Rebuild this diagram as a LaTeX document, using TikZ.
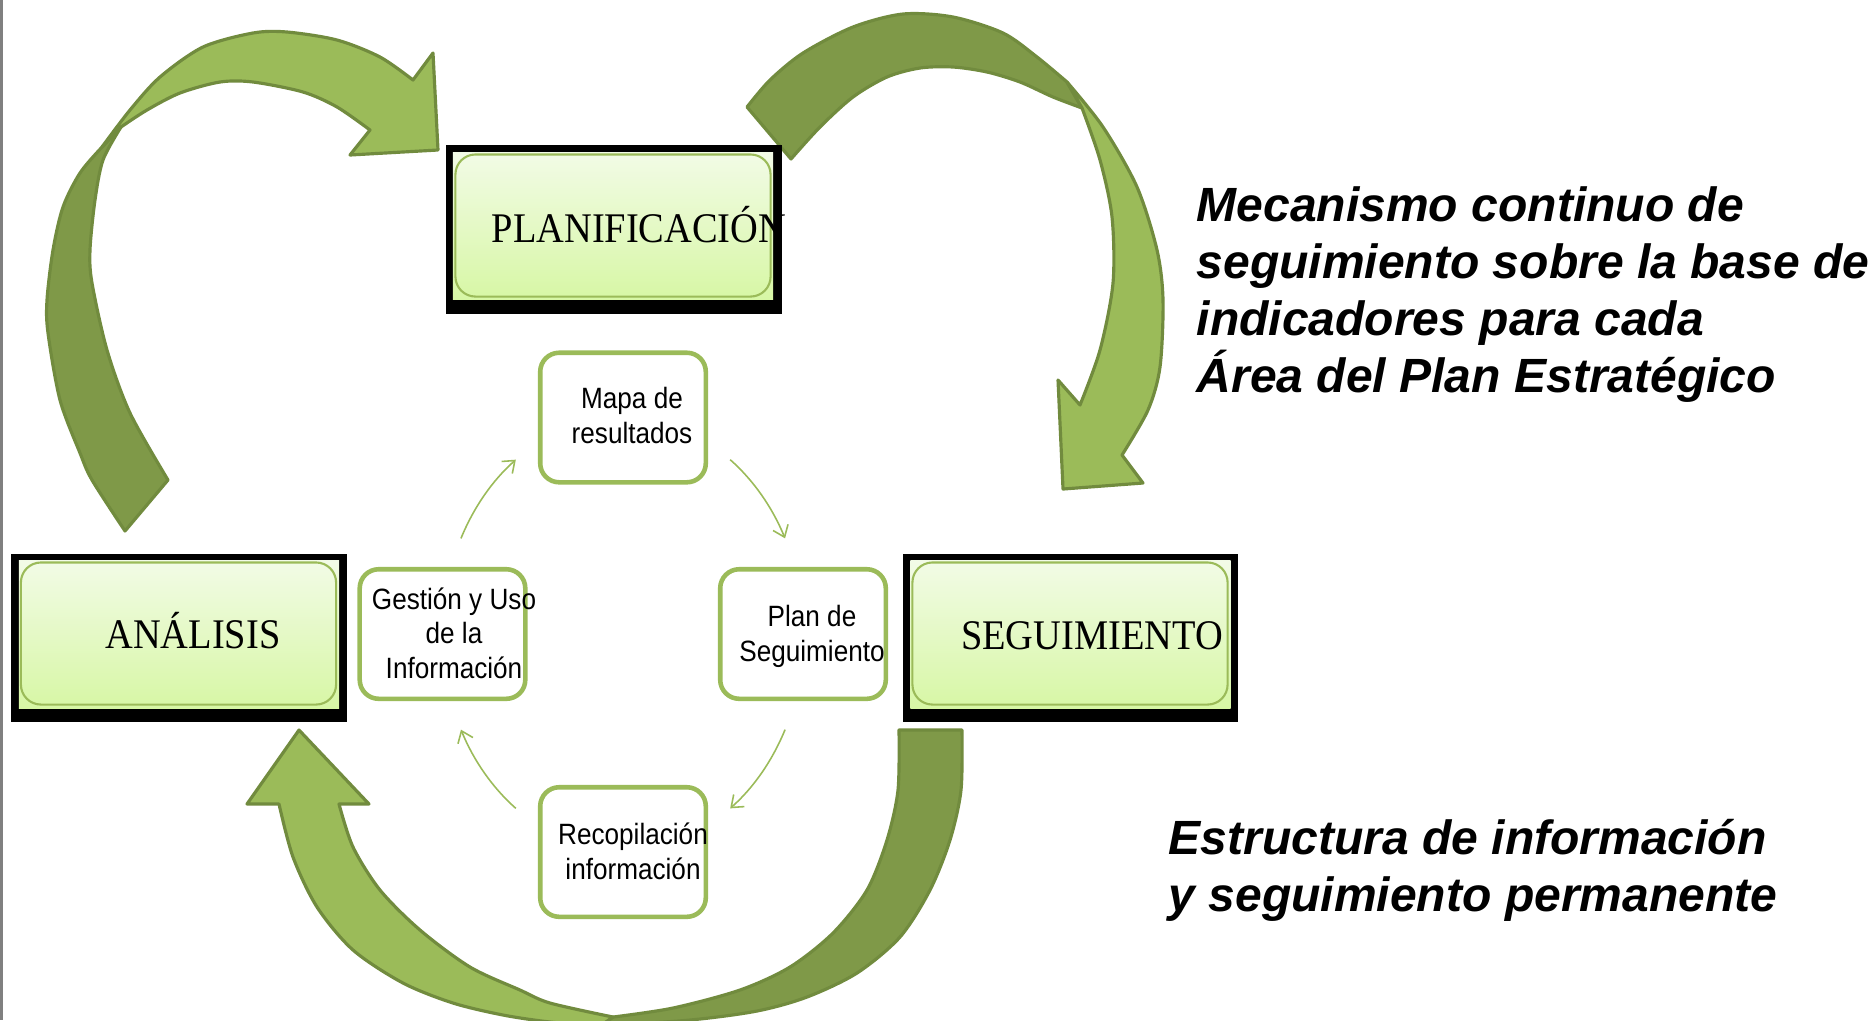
\documentclass[tikz,border=0pt]{standalone}
\usepackage{fontspec}
\newfontfamily\stagefont[FakeStretch=0.91]{Liberation Serif}
\newfontfamily\stepfont[FakeStretch=0.89]{Liberation Sans}
\newfontfamily\notefont{Liberation Sans}
\usetikzlibrary{arrows.meta,positioning}

\definecolor{leafgreen}{HTML}{9BBB59}
\definecolor{mossgreen}{HTML}{7F9948}
\definecolor{rimgreen}{HTML}{718B3E}
\definecolor{paneltop}{RGB}{242,251,230}
\definecolor{panelbot}{RGB}{215,247,165}

\begin{document}
\begin{tikzpicture}[x=0.01cm, y=-0.01cm,
    frame/.style={fill=black, minimum width=3.35cm, minimum height=1.68cm, inner sep=0},
    panel/.style={top color=paneltop, bottom color=panelbot, minimum width=3.2cm, minimum height=1.47cm, inner sep=0},
    rim/.style={draw=leafgreen, line width=0.6pt, rounded corners=0.2cm, minimum width=3.15cm, minimum height=1.42cm, inner sep=0},
    stagetext/.style={font=\stagefont\fontsize{12}{14}\selectfont, inner sep=0, anchor=base},
    stepbox/.style={draw=leafgreen, line width=1.3pt, fill=white, rounded corners=0.19cm, minimum width=1.655cm, minimum height=1.295cm, inner sep=0},
    steptext/.style={font=\stepfont\fontsize{8.35}{9.8}\selectfont, align=center, inner sep=0, anchor=base},
    flow/.style={draw=leafgreen, line width=0.45pt, -{Straight Barb[length=3pt,width=4.6pt]}},
    lightarm/.style={fill=leafgreen, draw=rimgreen, line width=0.9pt, line join=round},
    darkarm/.style={fill=mossgreen, draw=rimgreen, line width=0.9pt, line join=round},
    note/.style={font=\notefont\bfseries\itshape\fontsize{13.66}{16.2}\selectfont, align=left, inner sep=0, anchor=base west}]

    \useasboundingbox (0,0) rectangle (1874,1020);
    \clip (0,0) rectangle (1874,1020);
    \draw[gray, line width=0.6pt] (1.5,0) -- (1.5,1020);

    % analisis -> planificacion
    \path[darkarm] plot[smooth] coordinates {(125,531) (92,480) (80,453) (60,400) (48,333) (47,300) (53,250) (63,207) (80,173) (102,147) (121,127)}
        -- plot[smooth] coordinates {(121,127) (103,160) (95,200) (90,250) (92,283) (107,350) (130,413) (168,480)} -- cycle;
    \path[lightarm] plot[smooth] coordinates {(102,147) (130,110) (160,77) (203,47) (253,33) (287,32) (337,40) (380,57) (413,80)}
        -- (433,53) -- (438,150) -- (350,155) -- (370,130)
        -- plot[smooth] coordinates {(370,130) (337,107) (303,92) (253,82) (220,82) (180,93) (147,110) (121,127)} -- cycle;

    % planificacion -> seguimiento
    \path[darkarm] plot[smooth] coordinates {(791,159) (820,127) (853,97) (887,77) (920,68) (953,67) (987,72) (1020,82) (1053,97) (1082,108)}
        -- plot[smooth] coordinates {(1067,82) (1037,57) (1003,33) (953,17) (903,14) (853,27) (803,53) (770,80) (747,107)} -- cycle;
    \path[lightarm] plot[smooth] coordinates {(1067,82) (1103,127) (1137,187) (1157,250) (1163,300) (1160,367) (1148,410) (1122,455)}
        -- (1143,483) -- (1063,489) -- (1058,380) -- (1080,405)
        -- plot[smooth] coordinates {(1080,405) (1100,350) (1113,283) (1112,217) (1100,160) (1082,108)} -- cycle;

    % seguimiento -> analisis
    \path[darkarm] plot[smooth] coordinates {(899,730) (898,790) (887,840) (867,890) (833,933) (790,967) (740,990) (673,1008) (613,1017)}
        -- plot[smooth] coordinates {(600,1026) (690,1020) (757,1011) (807,997) (857,973) (900,937) (930,890) (950,840) (961,790) (962,730)} -- cycle;
    \path[lightarm] plot[smooth] coordinates {(613,1017) (550,1003) (520,990) (470,967) (420,930) (380,890) (353,847) (339,804)}
        -- (369,804) -- (299,730) -- (247,804) -- (279,804)
        -- plot[smooth] coordinates {(279,804) (293,857) (317,907) (353,950) (403,983) (453,1003) (503,1015) (550,1022) (600,1026)} -- cycle;

    \node[frame] (planF) at (614,229.5) {};
    \node[panel] (planP) at (613,226) {};
    \node[rim] (planR) at (613,225.5) {};
    \node[stagetext] (planT) at (639,242) {PLANIFICACIÓN};

    \node[frame] (anaF) at (179,638) {};
    \node[panel] (anaP) at (179,634.5) {};
    \node[rim] (anaR) at (178.5,633.5) {};
    \node[stagetext] (anaT) at (193,648) {ANÁLISIS};

    \node[frame] (segF) at (1070.5,638) {};
    \node[panel] (segP) at (1070.5,634.5) {};
    \node[rim] (segR) at (1070,633.5) {};
    \node[stagetext] (segT) at (1092,649) {SEGUIMIENTO};

    \node[stepbox] (mapa) at (623,417.5) {};
    \node[stepbox] (gestion) at (442.5,634) {};
    \node[stepbox] (plan) at (803,634) {};
    \node[stepbox] (recop) at (623,852) {};

    \node[steptext] (mapaT) at (632,443) {Mapa de\\resultados};
    \node[steptext] (gestionT) at (454,678) {Gestión y Uso\\de la\\Información};
    \node[steptext] (planT2) at (812,661) {Plan de\\Seguimiento};
    \node[steptext] (recopT) at (633,879) {Recopilación\\información};

    \coordinate (cyc) at (623,634);
    \draw[flow] (cyc) ++(153.8:1.805cm and 2.165cm) arc[start angle=153.8, end angle=126.4, x radius=1.805cm, y radius=2.165cm];
    \draw[flow] (cyc) ++(53.6:1.805cm and 2.165cm) arc[start angle=53.6, end angle=26.2, x radius=1.805cm, y radius=2.165cm];
    \draw[flow] (cyc) ++(-26.2:1.805cm and 2.165cm) arc[start angle=-26.2, end angle=-53.6, x radius=1.805cm, y radius=2.165cm];
    \draw[flow] (cyc) ++(-126.4:1.805cm and 2.165cm) arc[start angle=-126.4, end angle=-153.8, x radius=1.805cm, y radius=2.165cm];

    \node[note] (mecanismo) at (1196,392) {Mecanismo continuo de\\seguimiento sobre la base de\\indicadores para cada\\Área del Plan Estratégico};
    \node[note] (estructura) at (1168,911) {Estructura de información\\y seguimiento permanente};

\end{tikzpicture}
\end{document}
